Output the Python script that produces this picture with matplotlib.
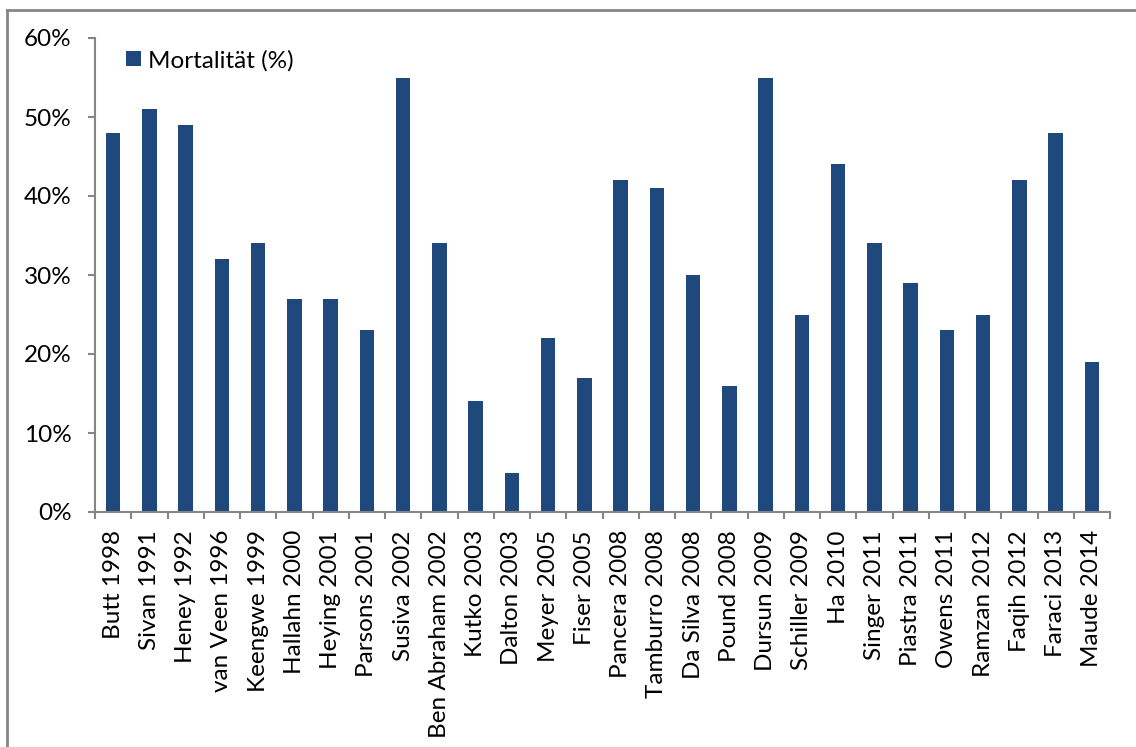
import matplotlib
matplotlib.use("Agg")
import matplotlib.pyplot as plt
import numpy as np
from matplotlib.lines import Line2D
from matplotlib.ticker import FixedLocator, PercentFormatter

studies = ["Butt 1998", "Sivan 1991", "Heney 1992", "van Veen 1996", "Keengwe 1999",
           "Hallahn 2000", "Heying 2001", "Parsons 2001", "Susiva 2002", "Ben Abraham 2002",
           "Kutko 2003", "Dalton 2003", "Meyer 2005", "Fiser 2005", "Pancera 2008",
           "Tamburro 2008", "Da Silva 2008", "Pound 2008", "Dursun 2009", "Schiller 2009",
           "Ha 2010", "Singer 2011", "Piastra 2011", "Owens 2011", "Ramzan 2012",
           "Faqih 2012", "Faraci 2013", "Maude 2014"]
mortality = [48, 51, 49, 32, 34, 27, 27, 23, 55, 34,
             14, 5, 22, 17, 42, 41, 30, 16, 55, 25,
             44, 34, 29, 23, 25, 42, 48, 19]

BAR = "#1f497d"
GREY = "#868686"
FS = 17.5

plt.rcParams["font.family"] = ["Lato", "DejaVu Sans"]

fig = plt.figure(figsize=(11.36, 7.47), dpi=100)
ax = fig.add_axes([95 / 1136, 1 - 512 / 747, 1015 / 1136, 474 / 747])

x = np.arange(len(studies))
ax.bar(x, mortality, width=0.4, color=BAR, label="Mortalität (%)")

ax.set_xlim(-0.5, len(studies) - 0.5)
ax.set_ylim(0, 60)
ax.set_yticks(np.arange(0, 61, 10))
ax.yaxis.set_major_formatter(PercentFormatter(decimals=0))

ax.set_xticks(x)
ax.set_xticklabels(studies, rotation=90)
ax.xaxis.set_minor_locator(FixedLocator(np.arange(-0.5, len(studies), 1)))
ax.tick_params(axis="x", which="major", length=0, pad=13, labelsize=FS)
ax.tick_params(axis="x", which="minor", length=5, width=1.5, color=GREY)
ax.tick_params(axis="y", length=5, width=1.5, color=GREY, labelsize=FS, pad=12)

for side in ("top", "right"):
    ax.spines[side].set_visible(False)
for side in ("left", "bottom"):
    ax.spines[side].set_color(GREY)
    ax.spines[side].set_linewidth(1.5)

ax.legend(loc="upper left", bbox_to_anchor=(0.021, 0.996), frameon=False,
          fontsize=FS, handlelength=0.6, handleheight=0.6, handletextpad=0.3,
          borderaxespad=0)

# chart border (top and left edges; the rest falls outside the canvas)
fx, fy = 7 / 1136, 1 - 10 / 747
fig.add_artist(Line2D([fx, 1.01], [fy, fy], transform=fig.transFigure,
                      color=GREY, linewidth=2))
fig.add_artist(Line2D([fx, fx], [-0.01, fy], transform=fig.transFigure,
                      color=GREY, linewidth=2))

fig.savefig("out.png", dpi=100)
